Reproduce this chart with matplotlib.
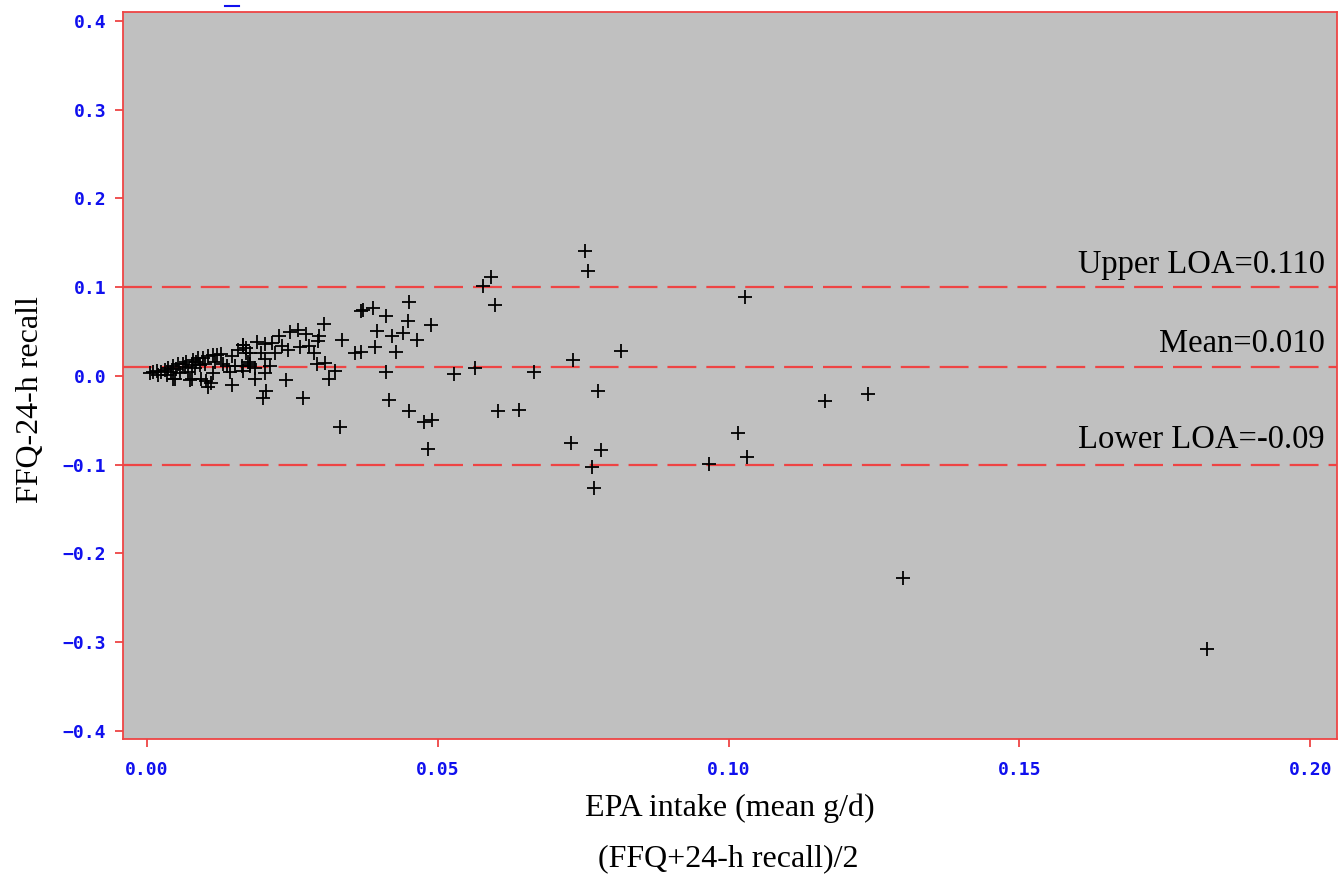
import matplotlib.pyplot as plt
from matplotlib.lines import Line2D

# Bland-Altman data: mean of the two methods (x) vs difference (y)
epa_mean = [
    0.0753, 0.0758, 0.0592, 0.0578, 0.0598, 0.1028, 0.0815, 0.0733, 0.0666, 0.0564,
    0.0528, 0.0776, 0.0604, 0.0640, 0.0729, 0.0781, 0.0966, 0.0765, 0.0769, 0.1016,
    0.1032, 0.1166, 0.1240, 0.1300, 0.1823, 0.0488, 0.0476, 0.0491, 0.0483,
    0.0451, 0.0389, 0.0371, 0.0368, 0.0412, 0.0449, 0.0395, 0.0421, 0.0440, 0.0464,
    0.0336, 0.0392, 0.0358, 0.0369, 0.0428, 0.0412, 0.0417, 0.0450, 0.0332,
    0.0305, 0.0260, 0.0246, 0.0273, 0.0227, 0.0296, 0.0294, 0.0166, 0.0189, 0.0203,
    0.0215, 0.0233, 0.0242, 0.0263, 0.0279, 0.0287, 0.0171, 0.0177, 0.0197, 0.0203,
    0.0220, 0.0212, 0.0177, 0.0186, 0.0165, 0.0203, 0.0293, 0.0307, 0.0323, 0.0314,
    0.0240, 0.0186, 0.0205, 0.0199, 0.0269,
    0.0005, 0.0011, 0.0017, 0.0019, 0.0025, 0.0031, 0.0034, 0.0037, 0.0042, 0.0045,
    0.0048, 0.0051, 0.0054, 0.0057, 0.0062, 0.0065, 0.0068, 0.0071, 0.0074, 0.0077,
    0.0080, 0.0083, 0.0085, 0.0088, 0.0091, 0.0094, 0.0097, 0.0100, 0.0102, 0.0105,
    0.0111, 0.0114, 0.0117, 0.0120, 0.0114, 0.0127, 0.0131, 0.0137, 0.0146, 0.0143,
    0.0146, 0.0151, 0.0163, 0.0166, 0.0157, 0.0171, 0.0174, 0.0177,
    0.0077, 0.0045, 0.0105,
]
epa_diff = [
    0.141, 0.118, 0.112, 0.101, 0.080, 0.089, 0.028, 0.018, 0.005, 0.009,
    0.002, -0.017, -0.039, -0.038, -0.076, -0.083, -0.099, -0.103, -0.126, -0.064,
    -0.091, -0.028, -0.020, -0.228, -0.308, 0.057, -0.052, -0.050, -0.082,
    0.083, 0.077, 0.074, 0.073, 0.068, 0.062, 0.051, 0.045, 0.048, 0.040,
    0.041, 0.033, 0.026, 0.027, 0.027, 0.004, -0.027, -0.039, -0.057,
    0.059, 0.052, 0.049, 0.047, 0.045, 0.045, 0.039, 0.035, 0.038, 0.036,
    0.037, 0.034, 0.029, 0.033, 0.034, 0.026, 0.031, 0.026, 0.026, 0.019,
    0.026, 0.011, 0.014, 0.009, 0.006, 0.003, 0.014, 0.015, 0.006, -0.003,
    -0.005, -0.003, -0.017, -0.025, -0.025,
    0.003, 0.005, 0.006, 0.001, 0.004, 0.007, 0.001, 0.009, 0.005, 0.011,
    -0.003, 0.008, 0.014, 0.003, 0.014, 0.010, 0.016, 0.005, -0.005, 0.012,
    0.018, 0.009, 0.016, 0.020, 0.012, -0.003, 0.020, 0.014, -0.006, 0.022,
    -0.008, 0.003, 0.016, 0.024, 0.024, 0.025, 0.014, 0.011, 0.022, 0.005,
    -0.010, 0.011, 0.011, 0.035, 0.029, 0.026, 0.016, 0.011,
    -0.003, -0.004, -0.012,
]

upper_loa = 0.100
mean_diff = 0.010
lower_loa = -0.100
ref_labels = ["Upper LOA=0.110", "Mean=0.010", "Lower LOA=-0.09"]
label_y = [0.116, 0.027, -0.081]

xticks = [0.00, 0.05, 0.10, 0.15, 0.20]
yticks = [0.4, 0.3, 0.2, 0.1, 0.0, -0.1, -0.2, -0.3, -0.4]

red = '#ee4444'
blue = '#1010ee'

fig = plt.figure(figsize=(13.41, 8.83), dpi=100)
ax = fig.add_axes([0.0917, 0.1631, 0.9053, 0.8233])
ax.set_facecolor('#c0c0c0')

for yv in [upper_loa, mean_diff, lower_loa]:
    ax.axhline(yv, color=red, lw=1.6, dashes=(13, 4.5), zorder=2)

ax.plot(epa_mean, epa_diff, linestyle='none', marker='+', markersize=10,
        markeredgewidth=1.3, color='black', zorder=3)

for lab, yv in zip(ref_labels, label_y):
    ax.text(0.2025, yv, lab, ha='right', va='baseline', fontsize=23.5,
            family='Liberation Serif', color='black')

ax.set_xlim(-0.0041, 0.2046)
ax.set_ylim(-0.409, 0.410)
ax.set_xticks(xticks)
ax.set_xticklabels([f"{v:.2f}" for v in xticks])
ax.set_yticks(yticks)
ax.set_yticklabels([f"{v:.1f}".replace("-", "\u2212") for v in yticks])

for s in ax.spines.values():
    s.set_color(red)
    s.set_linewidth(1.3)
ax.tick_params(axis='both', direction='out', length=6, width=1.3, color=red,
               labelcolor=blue, labelsize=13, pad=6)
for lbl in ax.get_xticklabels() + ax.get_yticklabels():
    lbl.set_family('DejaVu Sans Mono')
    lbl.set_fontweight('bold')
ax.tick_params(axis='x', pad=10)

fig.text(0.544, 0.085, "EPA intake (mean g/d)", ha='center', va='center',
         fontsize=23, family='Liberation Serif')
fig.text(0.543, 0.028, "(FFQ+24-h recall)/2", ha='center', va='center',
         fontsize=23, family='Liberation Serif')
fig.text(0.023, 0.547, "FFQ-24-h recall", ha='center', va='center',
         rotation=90, fontsize=23, family='Liberation Serif')

# small blue mark above the frame
fig.add_artist(Line2D([0.168, 0.178], [0.9935, 0.9935], color=blue, lw=1.5))

fig.savefig("out.png", dpi=100)
